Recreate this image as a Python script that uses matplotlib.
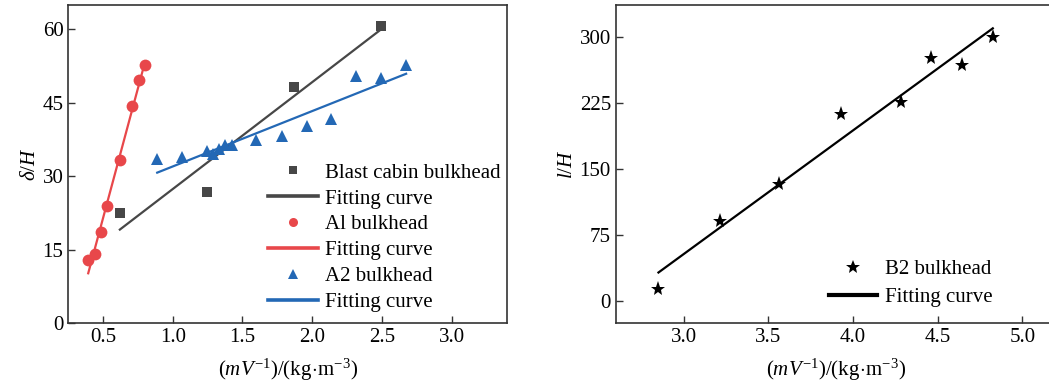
import numpy as np
import matplotlib
matplotlib.use("Agg")
import matplotlib.pyplot as plt
from matplotlib.lines import Line2D

plt.rcParams['font.family'] = ['Liberation Serif', 'DejaVu Serif']
plt.rcParams['mathtext.fontset'] = 'custom'
plt.rcParams['mathtext.rm'] = 'Liberation Serif'
plt.rcParams['mathtext.it'] = 'Liberation Serif:italic'
plt.rcParams['font.size'] = 15

# blast cabin bulkhead
blast_x = [0.62, 1.243, 1.867, 2.493]
blast_y = [22.4, 26.8, 48.2, 60.7]

# A1 bulkhead
a1_x = [0.393, 0.441, 0.488, 0.529, 0.619, 0.710, 0.755, 0.798]
a1_y = [12.9, 14.2, 18.6, 23.9, 33.3, 44.3, 49.7, 52.8]

# A2 bulkhead
a2_x = [0.888, 1.067, 1.243, 1.291, 1.334, 1.376, 1.424, 1.598, 1.781,
        1.962, 2.136, 2.312, 2.493, 2.674]
a2_y = [33.5, 33.9, 35.2, 34.6, 35.6, 36.4, 36.3, 37.4, 38.3,
        40.3, 41.7, 50.4, 50.0, 52.8]

# B2 bulkhead
b2_x = [2.852, 3.214, 3.566, 3.929, 4.285, 4.463, 4.643, 4.825]
b2_y = [13.3, 91.3, 132.6, 212.1, 225.8, 275.8, 267.4, 299.2]

xlabel = r'$(mV^{-1})/(\mathrm{kg\!\cdot\! m^{-3}})$'

c_gray = '#474747'
c_red = '#e8474a'
c_blue = '#2368b5'


def fit(ax, x, y, color):
    k, b = np.polyfit(x, y, 1)
    xs = np.array([min(x), max(x)])
    ax.plot(xs, k * xs + b, color=color, lw=1.6)


def style(ax):
    for s in ax.spines.values():
        s.set_color('#333333')
        s.set_linewidth(1.2)
    ax.tick_params(direction='in', length=5, width=1, color='#333333',
                   labelsize=15, top=False, right=False)


fig = plt.figure(figsize=(10.49, 3.87), dpi=100)
ax1 = fig.add_axes([0.0651, 0.1654, 0.4185, 0.8217])
ax2 = fig.add_axes([0.587, 0.1654, 0.42, 0.8217])

# left
ax1.plot(blast_x, blast_y, 's', color=c_gray, ms=6.5, mew=0)
fit(ax1, blast_x, blast_y, c_gray)
ax1.plot(a1_x, a1_y, 'o', color=c_red, ms=8.5, mew=0)
fit(ax1, a1_x, a1_y, c_red)
ax1.plot(a2_x, a2_y, '^', color=c_blue, ms=9, mew=0)
fit(ax1, a2_x, a2_y, c_blue)

ax1.set_xlim(0.25, 3.4)
ax1.set_ylim(0, 65)
ax1.set_xticks([0.5, 1.0, 1.5, 2.0, 2.5, 3.0])
ax1.set_yticks([0, 15, 30, 45, 60])
ax1.set_xlabel(xlabel, fontsize=15, labelpad=7)
ax1.set_ylabel(r'$\delta/H$', fontsize=15, labelpad=2)
style(ax1)

h1 = [Line2D([], [], ls='', marker='s', color=c_gray, ms=6, mew=0),
      Line2D([], [], color=c_gray, lw=2.6),
      Line2D([], [], ls='', marker='o', color=c_red, ms=6.5, mew=0),
      Line2D([], [], color=c_red, lw=2.6),
      Line2D([], [], ls='', marker='^', color=c_blue, ms=7.5, mew=0),
      Line2D([], [], color=c_blue, lw=2.6)]
l1 = ['Blast cabin bulkhead', 'Fitting curve', 'Al bulkhead', 'Fitting curve',
      'A2 bulkhead', 'Fitting curve']
ax1.legend(h1, l1, loc='lower right', frameon=False, fontsize=15,
           handlelength=2.4, handletextpad=0.35, labelspacing=0.3,
           borderpad=0, borderaxespad=0, bbox_to_anchor=(0.985, 0.035))

# right
ax2.plot(b2_x, b2_y, '*', color='black', ms=11, mew=0)
fit(ax2, b2_x, b2_y, 'black')
ax2.set_xlim(2.6, 5.2)
ax2.set_ylim(-25, 336)
ax2.set_xticks([3.0, 3.5, 4.0, 4.5, 5.0])
ax2.set_yticks([0, 75, 150, 225, 300])
ax2.set_xlabel(xlabel, fontsize=15, labelpad=7)
ax2.set_ylabel(r'$l/H$', fontsize=15, labelpad=2)
style(ax2)

h2 = [Line2D([], [], ls='', marker='*', color='black', ms=10, mew=0),
      Line2D([], [], color='black', lw=3)]
ax2.legend(h2, ['B2 bulkhead', 'Fitting curve'], loc='lower right',
           frameon=False, fontsize=15, handlelength=2.3, handletextpad=0.4,
           labelspacing=0.4, borderpad=0, borderaxespad=0,
           bbox_to_anchor=(0.855, 0.05))

fig.savefig('out.png', dpi=100)
